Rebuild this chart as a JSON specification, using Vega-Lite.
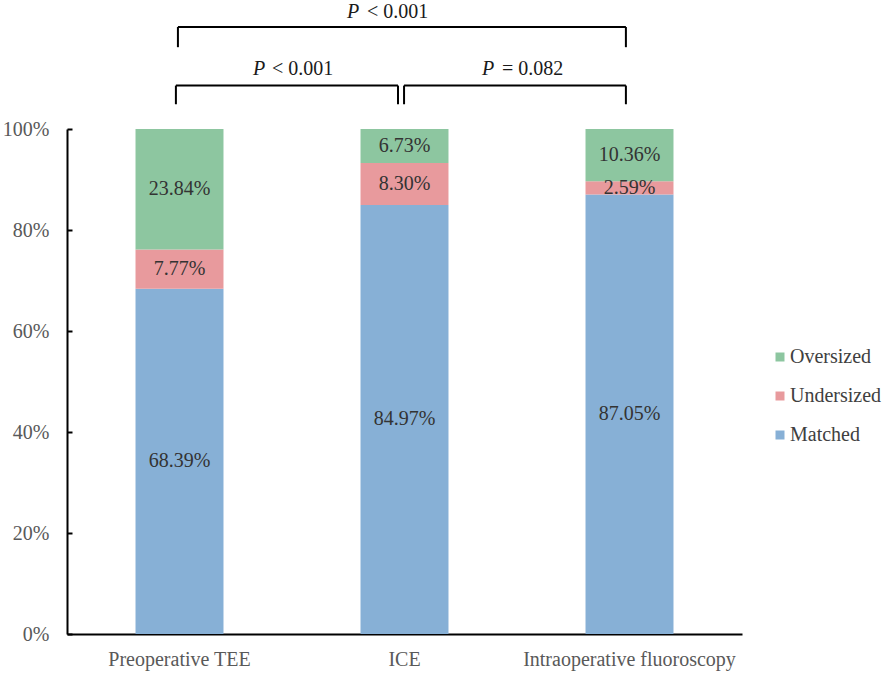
{
  "$schema": "https://vega.github.io/schema/vega-lite/v6.json",
  "width": 675,
  "height": 505,
  "autosize": {"type": "none"},
  "padding": {"left": 67, "top": 129, "right": 149, "bottom": 39},
  "background": "white",
  "config": {"view": {"stroke": null}, "font": "Liberation Serif"},
  "resolve": {"scale": {"x": "independent"}},
  "layer": [
    {
      "data": {
        "values": [
          {"method": "Preoperative TEE", "size": "Matched", "rank": 1, "value": 68.39},
          {"method": "Preoperative TEE", "size": "Undersized", "rank": 2, "value": 7.77},
          {"method": "Preoperative TEE", "size": "Oversized", "rank": 3, "value": 23.84},
          {"method": "ICE", "size": "Matched", "rank": 1, "value": 84.97},
          {"method": "ICE", "size": "Undersized", "rank": 2, "value": 8.30},
          {"method": "ICE", "size": "Oversized", "rank": 3, "value": 6.73},
          {"method": "Intraoperative fluoroscopy", "size": "Matched", "rank": 1, "value": 87.05},
          {"method": "Intraoperative fluoroscopy", "size": "Undersized", "rank": 2, "value": 2.59},
          {"method": "Intraoperative fluoroscopy", "size": "Oversized", "rank": 3, "value": 10.36}
        ]
      },
      "transform": [
        {"stack": "value", "groupby": ["method"], "sort": [{"field": "rank", "order": "ascending"}], "as": ["v0", "v1"]},
        {"calculate": "(datum.v0 + datum.v1) / 2", "as": "mid"},
        {"calculate": "format(datum.value, '.2f') + '%'", "as": "label"}
      ],
      "layer": [
        {
          "mark": {"type": "bar"},
          "encoding": {
            "x": {
              "field": "method", "type": "nominal",
              "sort": ["Preoperative TEE", "ICE", "Intraoperative fluoroscopy"],
              "scale": {"paddingInner": 0.609, "paddingOuter": 0.3045},
              "axis": {"title": null, "ticks": false, "labelAngle": 0, "labelFontSize": 20, "labelColor": "#595959", "labelPadding": 15, "labelLimit": 400, "domainColor": "black", "domainWidth": 2, "labelFont": "Liberation Serif"}
            },
            "y": {
              "field": "v0", "type": "quantitative",
              "scale": {"domain": [0, 100], "nice": false},
              "axis": {"title": null, "values": [0, 20, 40, 60, 80, 100], "labelExpr": "datum.value + '%'", "grid": false, "tickSize": -5, "tickColor": "black", "tickWidth": 2, "domainColor": "black", "domainWidth": 2, "labelFontSize": 20, "labelColor": "#595959", "labelPadding": 23, "labelFont": "Liberation Serif"}
            },
            "y2": {"field": "v1"},
            "color": {
              "field": "size", "type": "nominal",
              "scale": {"domain": ["Oversized", "Undersized", "Matched"], "range": ["#8DC6A0", "#E89A9D", "#87B0D6"]},
              "legend": {"title": null, "orient": "none", "legendX": 703, "legendY": 218, "symbolType": "square", "symbolSize": 81, "symbolStrokeWidth": 0, "labelFontSize": 20, "labelColor": "#404040", "labelFont": "Liberation Serif", "rowPadding": 19, "labelOffset": 0, "padding": 0}
            }
          }
        },
        {
          "mark": {"type": "text", "fontSize": 20, "color": "#333333", "font": "Liberation Serif"},
          "encoding": {
            "x": {"field": "method", "type": "nominal", "sort": ["Preoperative TEE", "ICE", "Intraoperative fluoroscopy"]},
            "y": {"field": "mid", "type": "quantitative"},
            "text": {"field": "label"}
          }
        }
      ]
    },
    {
      "layer": [
        {
          "data": {
            "values": [
              {"xa": 0.493, "xb": 2.484, "ya": 120.2, "yb": 120.2},
              {"xa": 0.493, "xb": 0.493, "ya": 116.2, "yb": 120.2},
              {"xa": 2.484, "xb": 2.484, "ya": 116.2, "yb": 120.2},
              {"xa": 0.484, "xb": 1.471, "ya": 108.6, "yb": 108.6},
              {"xa": 0.484, "xb": 0.484, "ya": 104.9, "yb": 108.6},
              {"xa": 1.471, "xb": 1.471, "ya": 104.9, "yb": 108.6},
              {"xa": 1.498, "xb": 2.484, "ya": 108.6, "yb": 108.6},
              {"xa": 1.498, "xb": 1.498, "ya": 104.9, "yb": 108.6},
              {"xa": 2.484, "xb": 2.484, "ya": 104.9, "yb": 108.6}
            ]
          },
          "mark": {"type": "rule", "strokeWidth": 2, "color": "black"},
          "encoding": {
            "x": {"field": "xa", "type": "quantitative", "scale": {"domain": [0, 3], "nice": false, "zero": false}, "axis": null},
            "x2": {"field": "xb"},
            "y": {"field": "ya", "type": "quantitative"},
            "y2": {"field": "yb"}
          }
        },
        {
          "data": {
            "values": [
              {"p": 1.244, "r": 1.333, "yy": 122.0, "rest": "< 0.001"},
              {"p": 0.827, "r": 0.911, "yy": 110.6, "rest": "< 0.001"},
              {"p": 1.844, "r": 1.933, "yy": 110.6, "rest": "= 0.082"}
            ]
          },
          "layer": [
            {
              "mark": {"type": "text", "fontSize": 20, "fontStyle": "italic", "align": "left", "baseline": "alphabetic", "color": "#1a1a1a", "font": "Liberation Serif"},
              "encoding": {
                "x": {"field": "p", "type": "quantitative", "scale": {"domain": [0, 3], "nice": false, "zero": false}, "axis": null},
                "y": {"field": "yy", "type": "quantitative"},
                "text": {"value": "P"}
              }
            },
            {
              "mark": {"type": "text", "fontSize": 20, "align": "left", "baseline": "alphabetic", "color": "#1a1a1a", "font": "Liberation Serif"},
              "encoding": {
                "x": {"field": "r", "type": "quantitative", "scale": {"domain": [0, 3], "nice": false, "zero": false}, "axis": null},
                "y": {"field": "yy", "type": "quantitative"},
                "text": {"field": "rest"}
              }
            }
          ]
        }
      ]
    }
  ]
}
